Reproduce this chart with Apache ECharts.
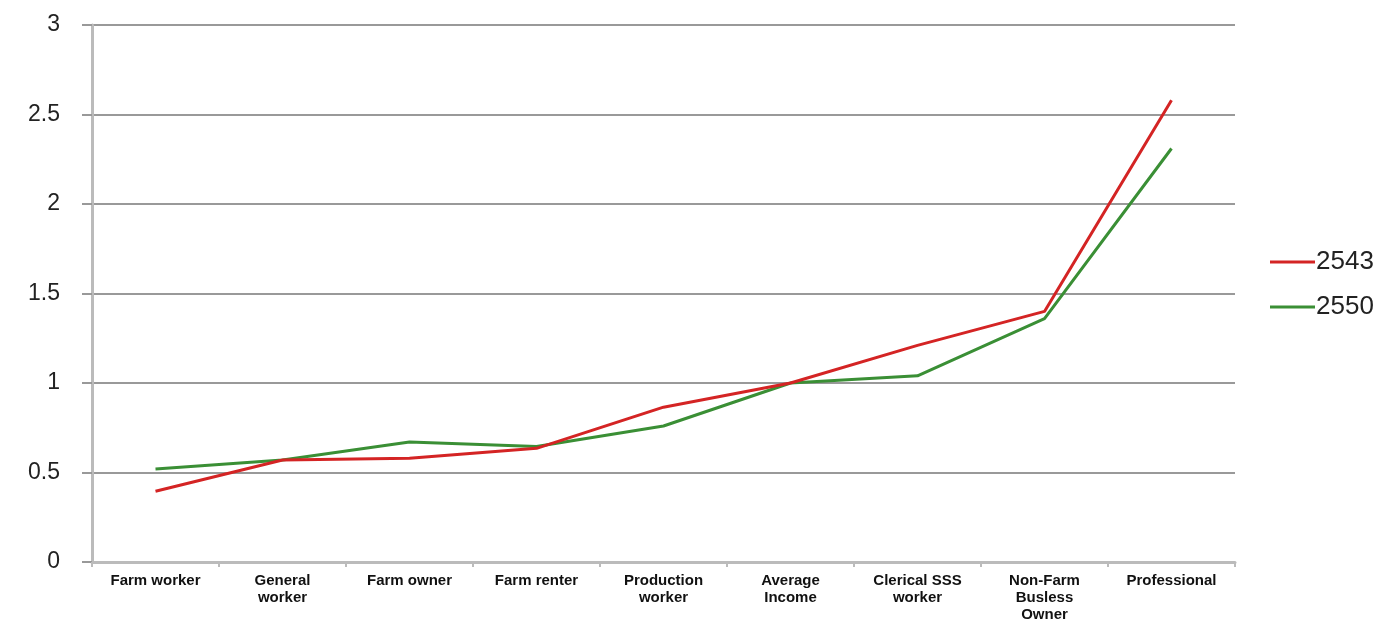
<!DOCTYPE html>
<html><head><meta charset="utf-8">
<script src="https://cdn.jsdelivr.net/npm/echarts@6/dist/echarts.min.js"></script>
<style>html,body{margin:0;padding:0;background:#fff}#c{width:1394px;height:623px}</style>
</head><body><div id="c"></div>
<script>
const categories = ["Farm worker","General\nworker","Farm owner","Farm renter","Production\nworker","Average\nIncome","Clerical SSS\nworker","Non-Farm\nBusless\nOwner","Professional"];
const series2543 = [0.395, 0.57, 0.58, 0.635, 0.865, 1.0, 1.21, 1.40, 2.58];
const series2550 = [0.52, 0.57, 0.67, 0.645, 0.76, 1.0, 1.04, 1.36, 2.31];
const yTicks = [0, 0.5, 1, 1.5, 2, 2.5, 3];

const chart = echarts.init(document.getElementById('c'));
chart.setOption({
  animation: false,
  backgroundColor: '#fff',
  grid: {left: 92, right: 159, top: 25, bottom: 60},
  legend: {
    orient: 'vertical', left: 1265, top: 244,
    icon: 'rect', itemWidth: 45, itemHeight: 3, itemGap: 19,
    textStyle: {fontFamily: 'Liberation Sans', fontSize: 26, color: '#222', padding: [0,0,0,-4]},
    data: ['2543','2550']
  },
  xAxis: {
    type: 'category', data: categories, boundaryGap: true,
    axisLine: {lineStyle: {color: '#bbb', width: 3}},
    axisTick: {show: true, length: 5, lineStyle: {color: '#bbb', width: 2}},
    axisLabel: {interval: 0, fontFamily: 'Liberation Sans', fontWeight: 'bold', fontSize: 15, color: '#111', lineHeight: 17, margin: 10}
  },
  yAxis: {
    type: 'value', min: 0, max: 3, interval: 0.5,
    axisLine: {show: true, lineStyle: {color: '#bbb', width: 3}},
    axisTick: {show: true, length: 10, lineStyle: {color: '#999', width: 2}},
    splitLine: {lineStyle: {color: '#999', width: 2}},
    axisLabel: {fontFamily: 'Liberation Sans', fontSize: 23, color: '#222', margin: 32,
      formatter: v => yTicks.includes(v) ? String(v) : ''}
  },
  series: [
    {name: '2543', type: 'line', data: series2543, symbol: 'none', lineStyle: {color: '#d42424', width: 3}, itemStyle: {color: '#d42424'}, z: 3},
    {name: '2550', type: 'line', data: series2550, symbol: 'none', lineStyle: {color: '#3a8f35', width: 3}, itemStyle: {color: '#3a8f35'}, z: 2}
  ]
});
</script></body></html>
